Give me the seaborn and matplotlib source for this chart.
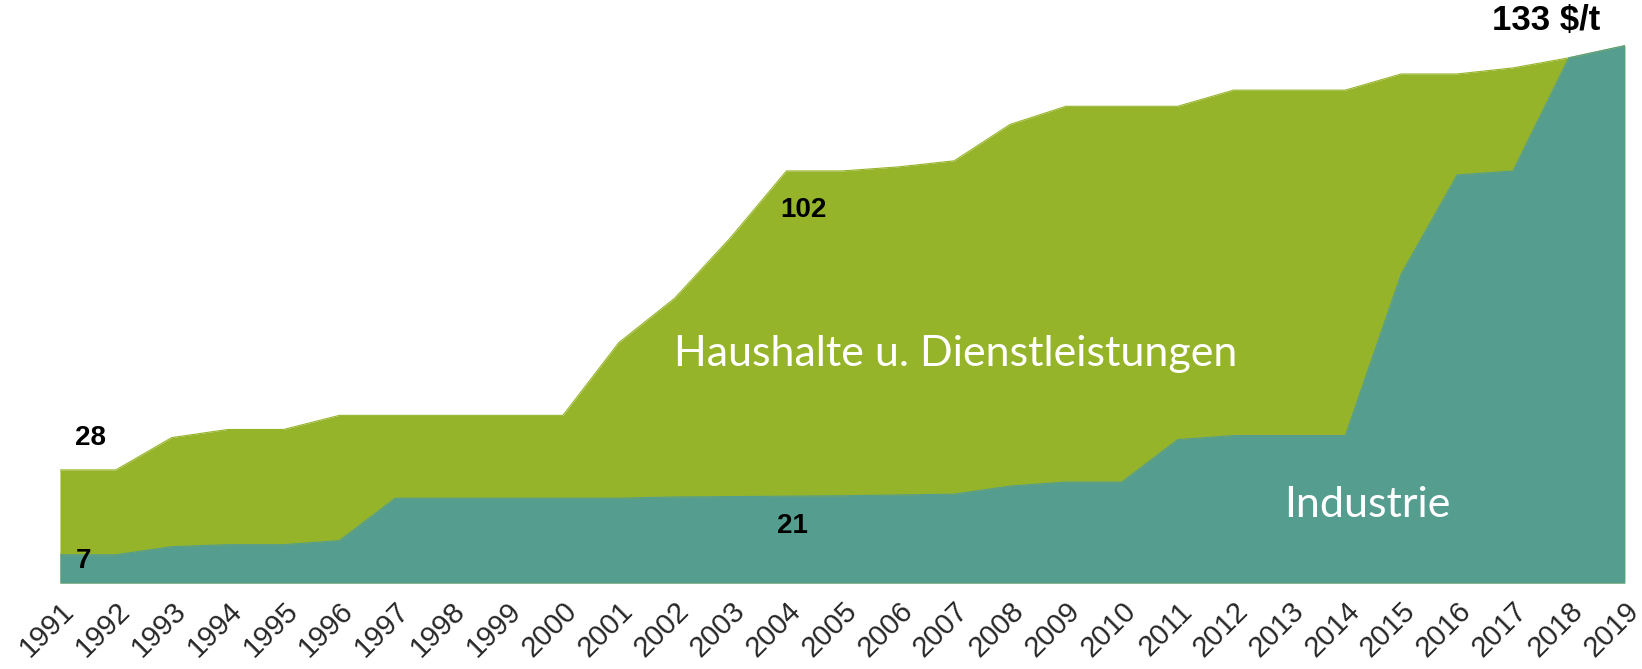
import matplotlib
matplotlib.use("Agg")
import matplotlib.pyplot as plt
import seaborn as sns
import pandas as pd

# CO2 tax rates in $/t by sector
years = list(range(1991, 2020))
households = [28, 28, 36, 38, 38, 41.5, 41.5, 41.5, 41.5, 41.5,
              59.5, 70.5, 85.5, 102, 102, 103, 104.5, 113.5, 118, 118,
              118, 122, 122, 122, 126, 126, 127.5, 130, 133]
industry = [7, 7, 9, 9.5, 9.5, 10.5, 21, 21, 21, 21,
            21, 21.3, 21.4, 21.5, 21.6, 21.8, 22, 24, 25, 25,
            35.5, 36.5, 36.5, 36.5, 76.5, 101, 102, 130, 133]
series_names = ["Haushalte u. Dienstleistungen", "Industrie"]
unit_label = "133 $/t"

df = pd.DataFrame({"Jahr": years, series_names[0]: households, series_names[1]: industry})

sns.set_theme(style="white")
plt.rcParams["font.family"] = ["Liberation Sans", "DejaVu Sans"]

GREEN = "#96B42A"
TEAL = "#559D8F"

fig = plt.figure(figsize=(16.42, 6.69), dpi=100)
ax = fig.add_axes([0.0365, 0.1285, 0.953, 0.8455])

ax.fill_between(df["Jahr"], 0, df[series_names[0]], color=GREEN, lw=0)
ax.fill_between(df["Jahr"], 0, df[series_names[1]], color=TEAL, lw=0)
sns.lineplot(data=df, x="Jahr", y=series_names[0], ax=ax, color=GREEN, lw=0.8)
sns.lineplot(data=df, x="Jahr", y=series_names[1], ax=ax, color=TEAL, lw=0.8)

ax.set_xlim(years[0], years[-1])
ax.set_ylim(0, 140)
ax.set_xticks(years)
ax.set_xticklabels([str(y) for y in years], rotation=45, ha="right",
                   rotation_mode="anchor", fontsize=21)
ax.tick_params(axis="x", length=0, pad=10)
ax.set_yticks([])
ax.set_xlabel("")
ax.set_ylabel("")
for s in ax.spines.values():
    s.set_visible(False)

# series names inside the areas
ax.text(2007.03, 56.8, series_names[0], color="white", fontsize=31,
        family=["Lato", "DejaVu Sans"], fontweight="normal", ha="center", va="center")
ax.text(2014.39, 19.2, series_names[1], color="white", fontsize=31,
        family=["Lato", "DejaVu Sans"], fontweight="normal", ha="center", va="center")

# value labels
bold = dict(fontsize=20, fontweight="bold", color="black", ha="center", va="center")
ax.text(1991.54, 35.8, f"{households[0]:g}", **bold)
ax.text(1991.43, 5.5, f"{industry[0]:g}", **bold)
ax.text(2004.3, 92.3, f"{households[13]:g}", **bold)
ax.text(2004.1, 14.0, f"{int(industry[13])}", **bold)
ax.text(2017.6, 139.2, unit_label, fontsize=25, fontweight="bold", color="black",
        ha="center", va="center", clip_on=False)

fig.savefig("out.png", dpi=100)
